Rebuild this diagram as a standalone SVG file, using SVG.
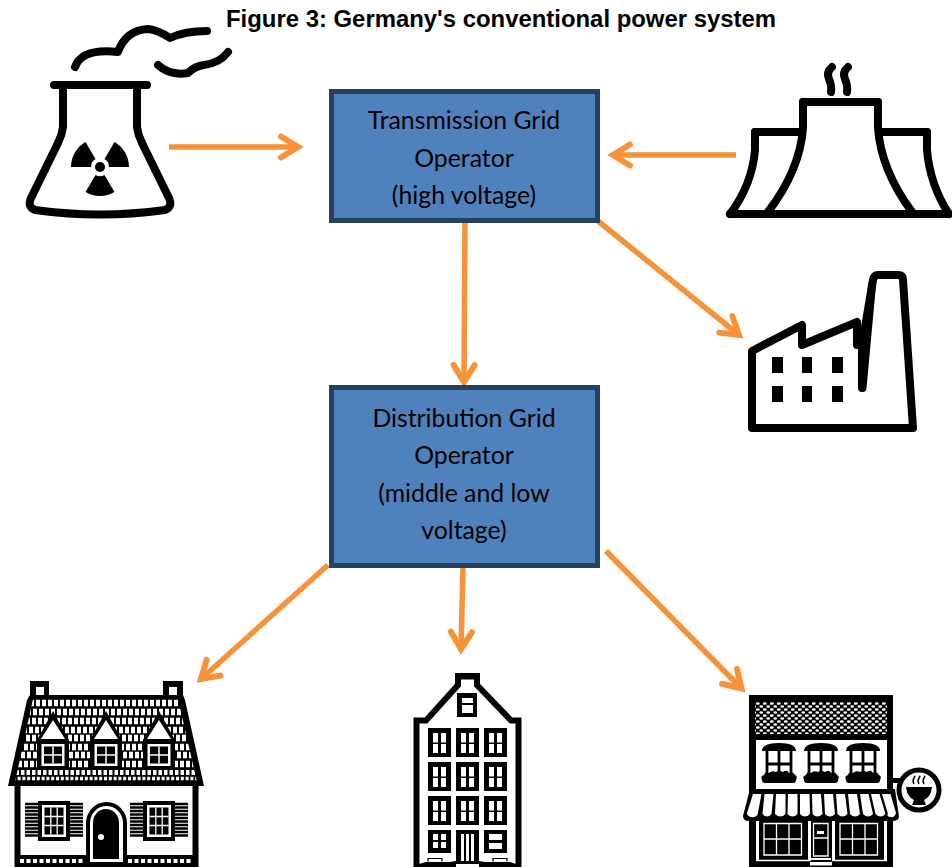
<svg xmlns="http://www.w3.org/2000/svg" width="952" height="867" viewBox="0 0 952 867">
<style>
.title{font:bold 23.9px "Liberation Sans",Arial,sans-serif;fill:#000}
.lbl{font:24.8px Lato,"Open Sans",sans-serif;fill:#000;text-anchor:middle}
.box{fill:#4f81bd;stroke:#254061;stroke-width:5}
.ln{fill:none;stroke:#000;stroke-width:8;stroke-linecap:round;stroke-linejoin:round}
.arr{fill:none;stroke:#f79239;stroke-width:5.500;marker-end:url(#h)}
.w{fill:#fff}.k{fill:#000}
</style>
<defs>
<marker id="h" markerUnits="userSpaceOnUse" markerWidth="40" markerHeight="40" refX="29" refY="17" orient="auto" overflow="visible">
<path d="M12 6.500L29 17L12 27.500" fill="none" stroke="#f79239" stroke-width="6" stroke-linecap="round" stroke-linejoin="miter"/>
</marker>
<clipPath id="rf"><polygon points="33,699 178,699 197,782 15,782"/></clipPath>
<pattern id="scale" width="7" height="6" patternUnits="userSpaceOnUse"><rect width="7" height="6" fill="#000"/><ellipse cx="1.8" cy="1.5" rx="2" ry="1.200" fill="#fff"/><ellipse cx="5.300" cy="4.500" rx="2" ry="1.200" fill="#fff"/></pattern>
<g id="dorm">
<path class="k" d="M0 -29L16 0V29H-16V0Z"/>
<path class="w" d="M0 -20L-12 -1H12Z"/>
<rect class="w" x="-11.500" y="4" width="23" height="22"/>
<rect class="k" x="-9" y="6.500" width="18" height="17"/>
<path d="M0 6.500V23.500M-9 15H9" stroke="#fff" stroke-width="1.500"/>
</g>
<g id="hwin">
<rect class="k" x="-16" y="-20" width="32" height="40"/>
<rect class="w" x="-12" y="-16" width="24" height="32"/>
<rect class="k" x="-9.500" y="-13.500" width="19" height="27"/>
<path d="M-3.200 -13.500V13.500M3.200 -13.500V13.500M-9.500 -4.500H9.500M-9.500 4.500H9.500" stroke="#fff" stroke-width="1.300"/>
</g>
<g id="shut"><path d="M-13 -17H0M-13 -13.500H0M-13 -10H0M-13 -6.500H0M-13 -3H0M-13 .5H0M-13 4H0M-13 7.500H0M-13 11H0M-13 14.500H0" stroke="#000" stroke-width="2.400" fill="none"/></g>
<g id="rwin">
<rect class="k" width="23" height="29"/>
<path class="w" d="M5 5h5v9.500h-5zM13 5h5v9.500h-5zM5 16h5v9h-5zM13 16h5v9h-5z"/>
</g>
<g id="swin">
<path class="k" d="M-17 7Q-17 -1 0 -1Q17 -1 17 7Z"/>
<path fill="none" stroke="#000" stroke-width="2.800" d="M-12 6V30M12 6V30M0 6V30M-12 20H12"/>
<path class="k" d="M-17 36Q-19 32 -15 31Q-14 27 -10 29Q-7 26 -3 28Q0 26 4 28Q8 25 10 29Q14 27 16 31Q19 32 17 36Q17 39 14 39H-14Q-17 39 -17 36Z"/>
</g>
</defs>

<rect width="952" height="867" fill="#fff"/>
<text class="title" x="226" y="27">Figure 3: Germany's conventional power system</text>

<g id="connectors">
<path class="arr" d="M169 147H298"/>
<path class="arr" d="M736 155H613"/>
<path class="arr" d="M465 221L464 382"/>
<path class="arr" d="M598 221L739 335"/>
<path class="arr" d="M328 565L201 679"/>
<path class="arr" d="M463 568L461 649"/>
<path class="arr" d="M606 551L741.500 688.500"/>
</g>

<g id="transmission">
<rect class="box" x="331.500" y="91.500" width="266" height="129"/>
<text class="lbl" x="464" y="129">Transmission Grid</text>
<text class="lbl" x="464" y="167">Operator</text>
<text class="lbl" x="464" y="204">(high voltage)</text>
</g>
<g id="distribution">
<rect class="box" x="331.500" y="387.500" width="266" height="178"/>
<text class="lbl" x="464" y="427">Distribution Grid</text>
<text class="lbl" x="464" y="464">Operator</text>
<text class="lbl" x="464" y="502">(middle and low</text>
<text class="lbl" x="464" y="539">voltage)</text>
</g>

<g id="nuclear">
<path class="ln" d="M54 85H147"/>
<path class="ln" d="M63 85V127Q62 135 58 143L31 198Q27 207 35 210Q100 219 165 210Q173 207 169 198L142 143Q138 135 137 127V85"/>
<path class="ln" d="M75 67Q82 48 118 52Q126 30 148 29Q158 30 170 38Q185 31 207 31"/>
<path class="ln" d="M158 65Q170 76 188 73Q195 66 204 65Q220 63 228 52"/>
<path class="k" d="M71 167A29 29 0 0 1 85.500 142L95.500 159A9 9 0 0 0 91 167Z"/>
<path class="k" d="M129 167A29 29 0 0 0 114.500 142L104.500 159A9 9 0 0 1 109 167Z"/>
<path class="k" d="M85.500 192A29 29 0 0 0 114.500 192L104.500 175A9 9 0 0 1 95.500 175Z"/>
<circle class="k" cx="100" cy="167" r="5"/>
</g>

<g id="coal">
<path class="ln" d="M730 214H949"/>
<path class="ln" d="M803 102H878"/>
<path class="ln" d="M803 102V128Q800 170 768 212"/>
<path class="ln" d="M878 102V128Q881 170 912 212"/>
<path class="ln" d="M755 132H801M880 132H927"/>
<path class="ln" d="M755 132V150Q752 185 730 214"/>
<path class="ln" d="M927 132V150Q930 185 949 214"/>
<path class="ln" d="M832 67Q826 72 829 79T831 92"/>
<path class="ln" d="M848 67Q842 72 845 79T847 92"/>
</g>

<g id="factory">
<path class="ln" d="M752 428V351L802 325V345L857 322V345H862L873 280Q874 275 878 275H898Q903 275 903 280L913 428Z"/>
<path class="ln" d="M872 285L862.500 388M862 345V388"/>
<path class="k" d="M772 357h11v16h-11zM802 357h10v16h-10zM832 357h11v16h-11zM772 386h11v16h-11zM802 386h10v16h-10zM832 386h11v16h-11z"/>
</g>

<g id="house">
<path class="k" d="M30 681H49V695H163V681H183V695L185 700L204 786H8L27 700L30 695Z"/>
<rect class="w" x="36" y="687" width="8" height="8"/><rect class="w" x="169" y="687" width="8" height="8"/>
<g clip-path="url(#rf)" stroke="#fff" fill="none">
<path stroke-width="6.500" stroke-dasharray="4 2" d="M30 703H190"/>
<path stroke-width="6.500" stroke-dasharray="4 2" stroke-dashoffset="3" d="M30 712H190"/>
<path stroke-width="6.500" stroke-dasharray="4 2" d="M20 721H195"/>
<path stroke-width="6.500" stroke-dasharray="4 2" stroke-dashoffset="3" d="M20 730H195"/>
<path stroke-width="6.500" stroke-dasharray="4 2" d="M20 738H195"/>
<path stroke-width="6.500" stroke-dasharray="4 2" stroke-dashoffset="3" d="M15 747H200"/>
<path stroke-width="6.500" stroke-dasharray="4 2" d="M15 755H200"/>
<path stroke-width="6.500" stroke-dasharray="4 2" stroke-dashoffset="3" d="M15 764H200"/>
<path stroke-width="5" stroke-dasharray="3.500 2" d="M10 772.500H200"/>
<path stroke-width="3.500" stroke-dasharray="3 1.800" stroke-dashoffset="2" d="M10 778.500H200"/>
</g>
<use href="#dorm" x="53" y="740"/><use href="#dorm" x="106" y="740"/><use href="#dorm" x="159" y="740"/>
<path d="M17.500 786V867M195.500 786V867" stroke="#000" stroke-width="6"/>
<rect class="k" x="15" y="855" width="183" height="12"/>
<path d="M20 861H84M128 861H193" stroke="#fff" stroke-width="4" stroke-dasharray="4 2.500"/>
<use href="#hwin" x="54" y="821"/><use href="#shut" x="38" y="821"/><use href="#shut" x="83" y="821"/>
<use href="#hwin" x="159" y="821"/><use href="#shut" x="143" y="821"/><use href="#shut" x="188" y="821"/>
<path class="k" d="M86 867V823A20.500 21 0 0 1 127 823V867Z"/>
<path class="w" d="M90 862V823A16.500 17 0 0 1 123 823V862Z"/>
<path class="k" d="M93 859V823A13 14 0 0 1 119 823V859Z"/>
<circle class="w" cx="101" cy="837" r="3"/>
</g>

<g id="townhouse">
<path fill="none" stroke="#000" stroke-width="6" stroke-linejoin="miter" d="M416.500 867V720.500H426L458 685V676.500H477V685L511 720.500H518.500V867"/>
<rect class="k" x="455" y="673" width="25" height="6"/>
<rect class="k" x="457" y="693" width="20" height="24"/>
<path class="w" d="M462 698h11v5h-11zM462 705h11v8h-11z"/>
<use href="#rwin" x="428" y="728"/><use href="#rwin" x="456" y="728"/><use href="#rwin" x="484" y="728"/>
<use href="#rwin" x="428" y="762"/><use href="#rwin" x="456" y="762"/><use href="#rwin" x="484" y="762"/>
<use href="#rwin" x="428" y="796"/><use href="#rwin" x="456" y="796"/><use href="#rwin" x="484" y="796"/>
<rect class="k" x="428" y="830" width="23" height="23"/>
<path class="w" d="M433 834h5v6h-5zM441 834h5v6h-5zM433 842h5v6h-5zM441 842h5v6h-5z"/>
<rect class="k" x="456" y="830" width="23" height="31"/>
<path class="w" d="M461 834h3v27h-3zM466 834h3v27h-3zM471 834h3v27h-3z"/>
<rect class="k" x="484" y="830" width="23" height="23"/>
<path class="w" d="M489 834h13v6h-13zM489 843h13v6h-13z"/>
<path class="k" d="M419 867V864L426 862H450L456 861H479L485 862H510L516 864V867Z"/>
<path class="w" d="M456 864h23v3h-23z"/>
<path fill="none" stroke="#000" stroke-width="1.200" d="M428 861.500V858.500H442V861.500M493 861.500V858.500H507V861.500"/>
</g>

<g id="shop">
<rect class="k" x="749" y="695" width="144" height="172"/>
<rect x="755" y="702" width="132" height="32" fill="url(#scale)"/>
<rect class="w" x="756" y="740" width="131" height="49"/>
<use href="#swin" x="779" y="744"/><use href="#swin" x="821" y="744"/><use href="#swin" x="863" y="744"/>
<path class="k" d="M893 778H905V783H893Z"/>
<rect class="w" x="893" y="784" width="3" height="11"/>
<circle cx="919" cy="790" r="20" fill="#fff" stroke="#000" stroke-width="5"/>
<path class="k" d="M906 787H932Q931 797 924 800L926 805H912L914 800Q907 797 906 787Z"/>
<path d="M914 784Q912 781 914 778T914 777M919 784Q917 781 919 778T919 777M924 784Q922 781 924 778T924 777" fill="none" stroke="#000" stroke-width="1.400"/>
<path class="k" d="M750 789H895L899 817Q898 821 893 821H749Q743 821 743 816Z"/>
<path class="w" d="M753 794H761.500L757.500 815Q755 818 751 817Q747 816 747 813ZM764.500 794H773.500L771.500 814Q767 819 762.500 814ZM776 794H785.500V814Q780.500 819 775 814ZM788 794H797.500V814Q792.500 819 787.500 814ZM800 794H809.500L810 814Q805 819 800 814ZM812 794H821L822.500 814Q817.500 819 812.500 814ZM824 794H833L835 814Q830 819 825 814ZM836 794H845L847.500 814Q842.500 819 837.500 814ZM848 794H857L860 814Q855 819 850 814ZM860 794H868.500L873 814Q868 819 863 814ZM871 794H879.500L885.500 814Q880.500 819 875.500 814ZM882 794H890.500L896 813Q895 818 890 817Q886 816 888 814Z"/>
<rect x="756" y="821" width="3" height="40" class="w"/><rect x="808" y="821" width="3" height="40" class="w"/><rect x="832" y="821" width="3" height="40" class="w"/><rect x="884" y="821" width="3" height="40" class="w"/>
<path fill="none" stroke="#fff" stroke-width="1.300" d="M764 823.500H801.500V855H764ZM776.500 823.500V855M789 823.500V855M764 839H801.500M840 823.500H877.500V855H840ZM852.500 823.500V855M865 823.500V855M840 839H877.500M813.500 823.500H828V856H813.500ZM813.500 838H828"/>
<rect class="w" x="817" y="831" width="7" height="3"/>
<path d="M756 860.500H810M832 860.500H887" stroke="#fff" stroke-width="1.500"/>
<path class="w" d="M811 858h20v2h-20zM810 862h22v3.500h-22z"/>
</g>
</svg>
